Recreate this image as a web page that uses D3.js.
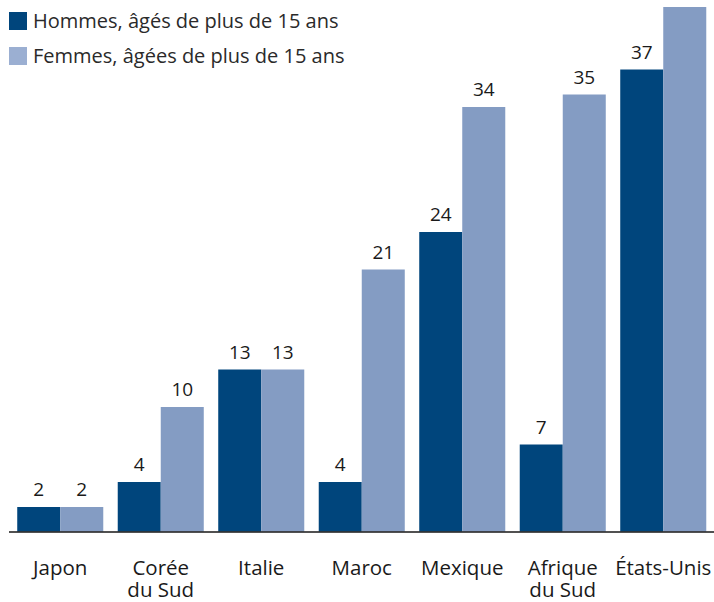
<!DOCTYPE html>
<html>
<head>
<meta charset="utf-8">
<script src="https://cdn.jsdelivr.net/npm/d3@7"></script>
<style>
  body { margin: 0; background: #fff; }
  svg text { font-family: "Open Sans", "DejaVu Sans", sans-serif; fill: #1a1a1a; }
</style>
</head>
<body>
<div id="chart"></div>
<script>
var pays = ["Japon", "Corée\ndu Sud", "Italie", "Maroc", "Mexique", "Afrique\ndu Sud", "États-Unis"];
var hommes = [2, 4, 13, 4, 24, 7, 37];
var femmes = [2, 10, 13, 21, 34, 35, 42];
var series = ["Hommes, âgés de plus de 15 ans", "Femmes, âgées de plus de 15 ans"];
var couleurs = ["#00457c", "#849cc3"];

var width = 714, height = 602;
var base = 532;

var svg = d3.select("#chart").append("svg")
    .attr("width", width)
    .attr("height", height);

var x = d3.scaleBand()
    .domain(pays)
    .range([10, 713.5])
    .paddingInner(0.144)
    .paddingOuter(0.072);

var x1 = d3.scaleBand()
    .domain([0, 1])
    .range([0, x.bandwidth()]);

var y = d3.scaleLinear()
    .domain([0, 42])
    .range([base, base - 42 * 12.5]);

var data = [hommes, femmes];

data.forEach(function(vals, s) {
    var g = svg.append("g");
    g.selectAll("rect")
        .data(vals)
        .enter().append("rect")
        .attr("x", function(d, i) { return x(pays[i]) + x1(s); })
        .attr("y", function(d) { return y(d); })
        .attr("width", x1.bandwidth())
        .attr("height", function(d) { return base - y(d); })
        .attr("fill", couleurs[s]);
    g.selectAll("text")
        .data(vals)
        .enter().append("text")
        .attr("x", function(d, i) { return x(pays[i]) + x1(s) + x1.bandwidth() / 2; })
        .attr("y", function(d) { return y(d) - 11; })
        .attr("text-anchor", "middle")
        .style("font-size", "19px")
        .text(function(d) { return d; });
});

// ligne de base
svg.append("line")
    .attr("x1", 9).attr("x2", width)
    .attr("y1", base).attr("y2", base)
    .attr("stroke", "#333")
    .attr("stroke-opacity", 0.85)
    .attr("stroke-width", 2);

// étiquettes des pays
pays.forEach(function(p) {
    var t = svg.append("text")
        .attr("text-anchor", "middle")
        .style("font-size", "20.5px");
    p.split("\n").forEach(function(l, k) {
        t.append("tspan")
            .attr("x", x(p) + x.bandwidth() / 2)
            .attr("y", 575 + k * 22)
            .text(l);
    });
});

// légende
var leg = svg.append("g");
series.forEach(function(s, i) {
    leg.append("rect")
        .attr("x", 9).attr("y", 12 + i * 35)
        .attr("width", 18).attr("height", 18)
        .attr("fill", i == 0 ? couleurs[0] : "#9bafd2");
    leg.append("text")
        .attr("x", 33).attr("y", 28 + i * 35)
        .style("font-size", "20px")
        .style("fill", "#2a2a2a")
        .text(s);
});
</script>
</body>
</html>
